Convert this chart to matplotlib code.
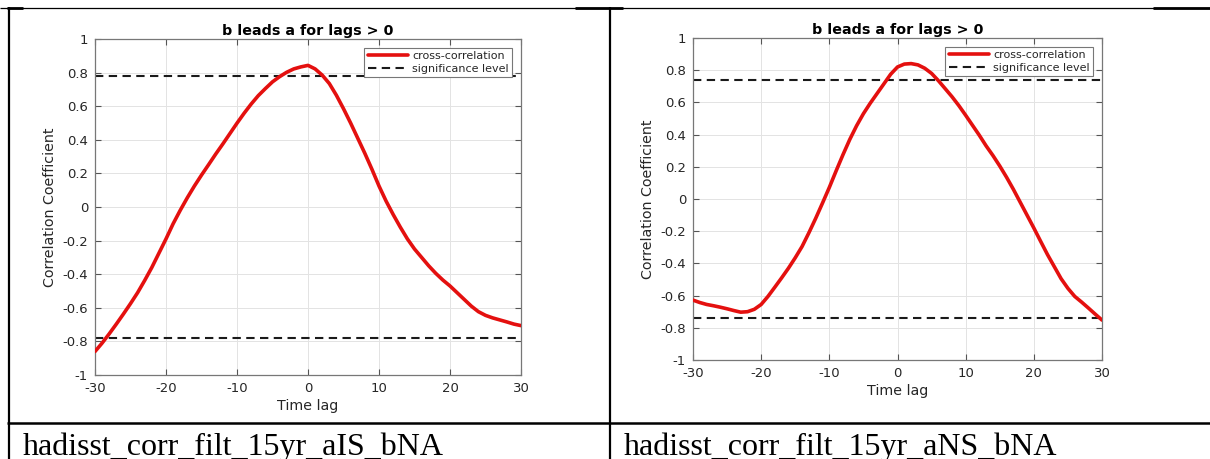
import numpy as np
import matplotlib
matplotlib.use('Agg')
import matplotlib.pyplot as plt
from matplotlib.lines import Line2D

plt.rcParams['axes.unicode_minus'] = False

# time lags and cross-correlation estimates
lags = list(range(-30, 31))

corr_aIS = [-0.86, -0.81, -0.755, -0.697, -0.637, -0.575, -0.51, -0.437, -0.36, -0.275,
            -0.19, -0.10, -0.02, 0.055, 0.125, 0.19, 0.252, 0.315, 0.375, 0.437,
            0.499, 0.558, 0.613, 0.663, 0.705, 0.745, 0.776, 0.802, 0.822, 0.834,
            0.843, 0.822, 0.785, 0.735, 0.665, 0.585, 0.50, 0.41, 0.32, 0.225,
            0.125, 0.035, -0.045, -0.12, -0.19, -0.25, -0.30, -0.35, -0.395, -0.435,
            -0.47, -0.51, -0.55, -0.59, -0.623, -0.645, -0.66, -0.672, -0.684, -0.697,
            -0.706]
sig_aIS = 0.777

corr_aNS = [-0.628, -0.643, -0.655, -0.663, -0.672, -0.682, -0.693, -0.703, -0.70, -0.685,
            -0.655, -0.605, -0.548, -0.49, -0.43, -0.365, -0.295, -0.21, -0.12, -0.025,
            0.072, 0.175, 0.275, 0.37, 0.455, 0.53, 0.595, 0.655, 0.715, 0.775,
            0.82, 0.838, 0.841, 0.833, 0.812, 0.78, 0.735, 0.685, 0.635, 0.58,
            0.52, 0.458, 0.396, 0.33, 0.27, 0.205, 0.135, 0.06, -0.02, -0.10,
            -0.18, -0.263, -0.345, -0.42, -0.495, -0.555, -0.605, -0.64, -0.677, -0.715,
            -0.752]
sig_aNS = 0.742

captions = ["hadisst_corr_filt_15yr_aIS_bNA", "hadisst_corr_filt_15yr_aNS_bNA"]
title = "b leads a for lags > 0"

W, H = 1210, 459
fig = plt.figure(figsize=(W / 100, H / 100), dpi=100)
fig.patch.set_facecolor('white')


def px_box(left, top, right, bottom):
    return [left / W, 1 - bottom / H, (right - left) / W, (bottom - top) / H]


def draw_panel(ax, corr, sig):
    tc = '#262626'
    ax.plot(lags, corr, color='#e4100f', lw=2.6, solid_capstyle='round',
            solid_joinstyle='round', label='cross-correlation', zorder=3)
    ax.axhline(sig, color='#1a1a1a', lw=1.5, dashes=(4, 2.6), label='significance level', zorder=2)
    ax.axhline(-sig, color='#1a1a1a', lw=1.5, dashes=(4, 2.6), zorder=2)
    ax.set_xlim(-30, 30)
    ax.set_ylim(-1, 1)
    ax.set_xticks(np.arange(-30, 31, 10))
    ax.set_yticks(np.round(np.arange(-1, 1.01, 0.2), 1))
    ax.set_yticklabels(['-1', '-0.8', '-0.6', '-0.4', '-0.2', '0', '0.2', '0.4', '0.6', '0.8', '1'])
    ax.grid(True, color='#e3e3e3', lw=0.7)
    ax.set_axisbelow(True)
    ax.tick_params(direction='in', length=4, width=0.8, top=True, right=True,
                   labelsize=9.5, colors='#555555', labelcolor=tc, pad=5)
    for s in ax.spines.values():
        s.set_color('#777777')
        s.set_linewidth(0.9)
    ax.set_title(title, fontsize=10.3, fontweight='bold', color='black', pad=3)
    ax.set_xlabel('Time lag', fontsize=10.3, color=tc, labelpad=3)
    ax.set_ylabel('Correlation Coefficient', fontsize=10.3, color=tc, labelpad=4)
    leg = ax.legend(loc='upper right', fontsize=8, handlelength=3.6, handletextpad=0.4,
                    borderpad=0.3, labelspacing=0.25, fancybox=False, framealpha=1,
                    borderaxespad=0.8)
    leg.get_frame().set_edgecolor('#777777')
    leg.get_frame().set_linewidth(0.8)
    for t in leg.get_texts():
        t.set_color(tc)


ax1 = fig.add_axes(px_box(95, 39, 521, 375))
draw_panel(ax1, corr_aIS, sig_aIS)
ax2 = fig.add_axes(px_box(693, 38, 1102, 360))
draw_panel(ax2, corr_aNS, sig_aNS)


def hline(x0, x1, y, lw):
    fig.add_artist(Line2D([x0 / W, x1 / W], [1 - y / H, 1 - y / H], color='black', lw=lw,
                          solid_capstyle='butt'))


def vline(x, y0, y1, lw):
    fig.add_artist(Line2D([x / W, x / W], [1 - y0 / H, 1 - y1 / H], color='black', lw=lw,
                          solid_capstyle='butt'))


# table borders
hline(0, W, 7.5, 0.9)
hline(7, 23, 8, 2.0)
hline(575, 623, 8, 2.0)
hline(1153, W, 8, 2.0)
vline(8.5, 7, H, 1.6)
vline(610, 7, H, 1.6)
hline(7, W, 423, 1.8)

fig.text(23 / W, 1 - 455 / H, captions[0], fontsize=23, family='Liberation Serif',
         va='baseline', ha='left')
fig.text(624 / W, 1 - 455 / H, captions[1], fontsize=23, family='Liberation Serif',
         va='baseline', ha='left')

fig.savefig('out.png', dpi=100)
